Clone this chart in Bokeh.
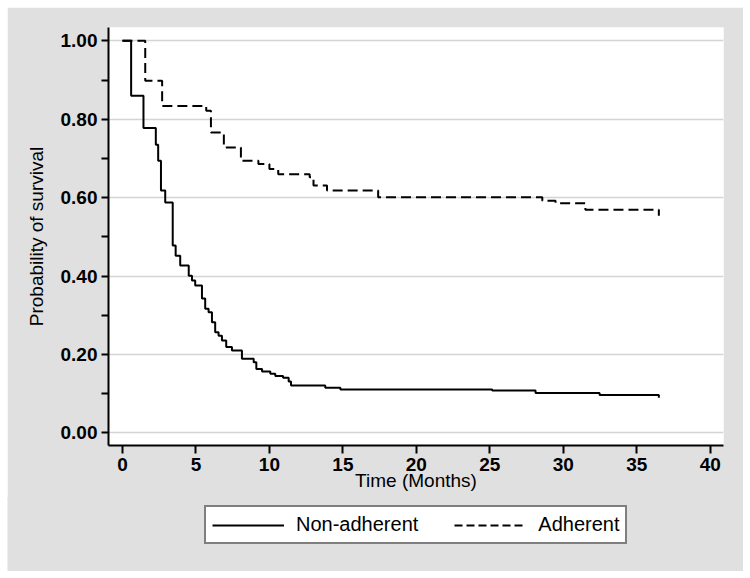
from bokeh.plotting import figure
from bokeh.layouts import column
from bokeh.models import Range1d, NumeralTickFormatter, FixedTicker, Legend, LegendItem
from bokeh.embed import file_html
from bokeh.resources import INLINE

# Kaplan-Meier step data (time in months, survival probability after each step)
nonadh_time = [0, 0.59, 1.43, 2.27, 2.43, 2.62, 2.91, 3.42, 3.62, 3.93, 4.51, 4.73, 4.95,
               5.41, 5.63, 5.86, 6.09, 6.31, 6.54, 6.77, 7.06, 7.45, 8.13, 8.93, 9.11,
               9.5, 10.06, 10.4, 10.93, 11.31, 11.47, 13.8, 14.83, 25.16, 28.11, 32.47, 36.5]
nonadh_surv = [1.0, 0.86, 0.778, 0.735, 0.694, 0.618, 0.588, 0.478, 0.452, 0.427, 0.401, 0.389, 0.376,
               0.343, 0.317, 0.308, 0.282, 0.257, 0.248, 0.236, 0.219, 0.21, 0.189, 0.18, 0.163,
               0.157, 0.151, 0.145, 0.141, 0.131, 0.121, 0.115, 0.111, 0.108, 0.102, 0.097, 0.09]

adh_time = [0, 1.55, 2.7, 5.7, 6.02, 6.9, 8.06, 9.25, 10.0, 10.6, 12.74, 13.0, 13.92,
            17.4, 28.57, 29.47, 31.5, 36.5]
adh_surv = [1.0, 0.898, 0.834, 0.822, 0.766, 0.728, 0.694, 0.686, 0.673, 0.660, 0.652, 0.631, 0.618,
            0.601, 0.592, 0.586, 0.569, 0.554]

series_labels = ["Non-adherent", "Adherent"]
x_ticks = [0, 5, 10, 15, 20, 25, 30, 35, 40]
y_ticks = [0.0, 0.2, 0.4, 0.6, 0.8, 1.0]
y_minor = [0.1, 0.3, 0.5, 0.7, 0.9]

FONT = "Liberation Sans"
BG = "#e0e0e0"
NAN = [float("nan")]

p = figure(width=736, height=493, output_backend="svg", toolbar_location=None,
           x_range=Range1d(-0.95, 40.9), y_range=Range1d(-0.032, 1.034),
           min_border_left=101, min_border_right=20, min_border_top=20, min_border_bottom=55,
           x_axis_label="Time (Months)", y_axis_label="Probability of survival")
p.margin = (7, 0, 0, 7)
p.border_fill_color = BG
p.background_fill_color = "white"
p.outline_line_color = None

p.xgrid.visible = False
p.ygrid.ticker = FixedTicker(ticks=y_ticks)
p.ygrid.grid_line_color = "#d4d4d4"
p.ygrid.grid_line_width = 1.5

p.xaxis.ticker = FixedTicker(ticks=x_ticks)
p.yaxis.ticker = FixedTicker(ticks=y_ticks, minor_ticks=y_minor)
p.yaxis.formatter = NumeralTickFormatter(format="0.00")

for ax in (p.xaxis[0], p.yaxis[0]):
    ax.axis_line_color = "black"
    ax.axis_line_width = 2
    ax.major_tick_line_color = "black"
    ax.major_tick_line_width = 2
    ax.major_tick_in = 0
    ax.minor_tick_line_color = "black"
    ax.minor_tick_line_width = 2
    ax.minor_tick_in = 0
    ax.major_label_text_font = FONT
    ax.major_label_text_font_style = "bold"
    ax.major_label_text_font_size = "19px"
    ax.major_label_text_color = "black"
    ax.axis_label_text_font = FONT
    ax.axis_label_text_font_style = "normal"
    ax.axis_label_text_font_size = "19px"
    ax.axis_label_text_color = "black"

p.xaxis.major_tick_out = 8
p.xaxis.minor_tick_line_color = None
p.xaxis.major_label_standoff = 4
p.xaxis.axis_label_standoff = -4
p.yaxis.major_tick_out = 7
p.yaxis.minor_tick_out = 7
p.yaxis.major_label_standoff = 4
p.yaxis.axis_label_standoff = 11

p.step(nonadh_time, nonadh_surv, mode="after", line_color="black", line_width=2)
p.step(adh_time, adh_surv, mode="after", line_color="black", line_width=2, line_dash="10 5")

# legend strip below the plot (same grey background), overlapping slightly to hide any seam
q = figure(width=736, height=74, output_backend="svg", toolbar_location=None,
           x_range=Range1d(0, 1), y_range=Range1d(0, 1),
           x_axis_location=None, y_axis_location=None,
           min_border_left=0, min_border_right=0, min_border_top=0, min_border_bottom=0)
q.margin = (-3, 0, 0, 7)
q.border_fill_color = BG
q.background_fill_color = BG
q.outline_line_color = None
q.grid.visible = False

legend_x = 96
if "frame_align" in q.properties():
    q.frame_align = False
    legend_x = 197

leg_solid = q.line(x=NAN, y=NAN, line_color="black", line_width=2)
leg_dash = q.line(x=NAN, y=NAN, line_color="black", line_width=2, line_dash="8 4")

legend = Legend(items=[LegendItem(label=series_labels[0], renderers=[leg_solid]),
                       LegendItem(label=series_labels[1], renderers=[leg_dash])],
                orientation="horizontal", location=(legend_x, 27))
legend.border_line_color = "black"
legend.border_line_width = 2
legend.background_fill_color = "white"
legend.background_fill_alpha = 1
legend.label_text_font = FONT
legend.label_text_font_size = "20px"
legend.label_text_color = "black"
legend.glyph_width = 72
legend.glyph_height = 16
legend.label_height = 16
legend.label_standoff = 12
legend.spacing = 36
legend.padding = 6
legend.margin = 0
q.add_layout(legend)

layout = column(p, q, spacing=0)
open("out.html", "w").write(file_html(layout, INLINE))
